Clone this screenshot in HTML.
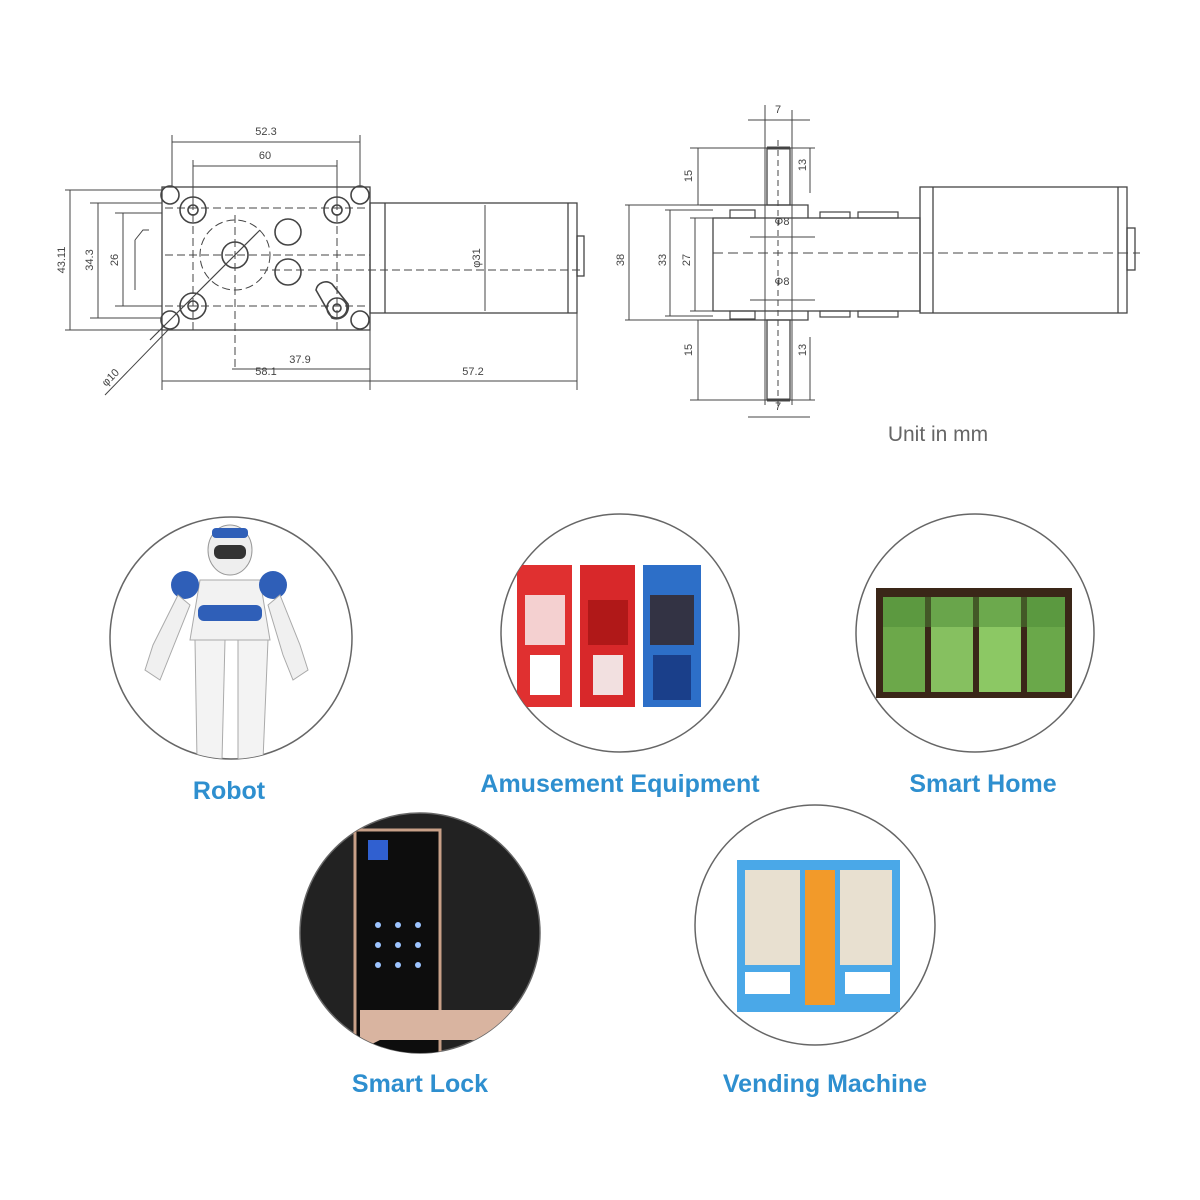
<!DOCTYPE html>
<html><head><meta charset="utf-8"><style>
html,body{margin:0;padding:0;background:#fff;}
svg{display:block}
text{font-family:"Liberation Sans",sans-serif}
.l{font-family:"Liberation Sans",sans-serif;font-weight:bold;font-size:25px;fill:#2e8fcf;text-anchor:middle}
</style></head><body>
<svg width="1200" height="1200" viewBox="0 0 1200 1200" xmlns="http://www.w3.org/2000/svg">
<g stroke="#444" stroke-width="1.3" fill="none">
<!-- LEFT VIEW -->
<rect x="162" y="187" width="208" height="143"/>
<rect x="370" y="203" width="207" height="110"/>
<line x1="385" y1="203" x2="385" y2="313"/>
<line x1="568" y1="203" x2="568" y2="313"/>
<rect x="577" y="236" width="7" height="40"/>
<g stroke-dasharray="8,4" stroke-width="1">
<line x1="165" y1="208" x2="365" y2="208"/><line x1="165" y1="306" x2="365" y2="306"/>
<line x1="193" y1="190" x2="193" y2="330"/><line x1="337" y1="190" x2="337" y2="330"/>
<line x1="165" y1="255" x2="370" y2="255"/><line x1="260" y1="270" x2="580" y2="270"/>
<line x1="235" y1="215" x2="235" y2="370"/>
<circle cx="235" cy="255" r="35"/>
</g>
<g stroke-width="1.6">
<circle cx="170" cy="195" r="9"/><circle cx="360" cy="195" r="9"/><circle cx="170" cy="320" r="9"/><circle cx="360" cy="320" r="9"/>
<circle cx="193" cy="210" r="13"/><circle cx="193" cy="210" r="5"/>
<circle cx="337" cy="210" r="13"/><circle cx="337" cy="210" r="5"/>
<circle cx="193" cy="306" r="13"/><circle cx="193" cy="306" r="5"/>
<circle cx="337" cy="308" r="10"/><circle cx="337" cy="308" r="4"/>
<path d="M316 290 a10 10 0 0 1 16 -6 l16 20 a12 12 0 0 1 -16 14 z"/>
<circle cx="235" cy="255" r="13"/>
<circle cx="288" cy="232" r="13"/><circle cx="288" cy="272" r="13"/>
<line x1="150" y1="340" x2="260" y2="230" stroke-width="1.2"/>
<line x1="105" y1="395" x2="168" y2="330" stroke-width="1"/>
</g>
<g stroke-width="1">
<line x1="172" y1="135" x2="172" y2="187"/><line x1="360" y1="135" x2="360" y2="187"/>
<line x1="172" y1="142" x2="360" y2="142"/>
<line x1="193" y1="160" x2="193" y2="205"/><line x1="337" y1="160" x2="337" y2="205"/>
<line x1="193" y1="166" x2="337" y2="166"/>
<line x1="65" y1="190" x2="162" y2="190"/><line x1="65" y1="330" x2="162" y2="330"/>
<line x1="70" y1="190" x2="70" y2="330"/>
<line x1="90" y1="203" x2="162" y2="203"/><line x1="90" y1="318" x2="162" y2="318"/>
<line x1="98" y1="203" x2="98" y2="318"/>
<line x1="115" y1="213" x2="162" y2="213"/><line x1="115" y1="306" x2="162" y2="306"/>
<line x1="123" y1="213" x2="123" y2="306"/>
<line x1="232" y1="369" x2="370" y2="369"/>
<line x1="162" y1="330" x2="162" y2="390"/><line x1="370" y1="330" x2="370" y2="390"/><line x1="577" y1="313" x2="577" y2="390"/>
<line x1="162" y1="381" x2="577" y2="381"/>
<line x1="485" y1="205" x2="485" y2="311"/>
<path d="M135 240 l8 -10 l6 0 M135 240 v50"/>
</g>
<!-- RIGHT VIEW -->
<rect x="920" y="187" width="207" height="126"/>
<line x1="933" y1="187" x2="933" y2="313"/><line x1="1118" y1="187" x2="1118" y2="313"/>
<rect x="1127" y="228" width="8" height="42"/>
<rect x="713" y="218" width="207" height="93"/>
<path d="M700 205 H808 V218 M700 320 H808 V311"/>
<rect x="767" y="148" width="23" height="57"/><rect x="767" y="320" width="23" height="80"/>
<line x1="767" y1="148" x2="790" y2="148" stroke-width="3"/>
<line x1="767" y1="400" x2="790" y2="400" stroke-width="3"/>
<g stroke-width="1.2">
<rect x="730" y="210" width="25" height="8"/><rect x="820" y="212" width="30" height="6"/><rect x="858" y="212" width="40" height="6"/>
<rect x="730" y="311" width="25" height="8"/><rect x="820" y="311" width="30" height="6"/><rect x="858" y="311" width="40" height="6"/>
</g>
<g stroke-width="1">
<line x1="690" y1="148" x2="815" y2="148"/><line x1="690" y1="400" x2="815" y2="400"/>
<line x1="698" y1="148" x2="698" y2="205"/><line x1="698" y1="320" x2="698" y2="400"/>
<line x1="810" y1="148" x2="810" y2="193"/><line x1="810" y1="337" x2="810" y2="400"/>
<line x1="625" y1="205" x2="700" y2="205"/><line x1="625" y1="320" x2="700" y2="320"/>
<line x1="629" y1="205" x2="629" y2="320"/>
<line x1="665" y1="210" x2="713" y2="210"/><line x1="665" y1="316" x2="713" y2="316"/>
<line x1="670" y1="210" x2="670" y2="316"/>
<line x1="690" y1="218" x2="713" y2="218"/><line x1="690" y1="311" x2="713" y2="311"/>
<line x1="695" y1="218" x2="695" y2="311"/>
<line x1="765" y1="105" x2="765" y2="405"/><line x1="792" y1="110" x2="792" y2="405"/>
<line x1="748" y1="120" x2="810" y2="120"/><line x1="748" y1="417" x2="810" y2="417"/>
<line x1="750" y1="237" x2="815" y2="237"/><line x1="750" y1="300" x2="815" y2="300"/>
<line x1="713" y1="253" x2="1140" y2="253" stroke-dasharray="10,5"/>
<line x1="778" y1="140" x2="778" y2="410" stroke-dasharray="6,4"/>
</g>
</g>
<g font-size="11" fill="#444" font-family="Liberation Mono,monospace" text-anchor="middle">
<text x="266" y="135">52.3</text><text x="265" y="159">60</text><text x="300" y="363">37.9</text>
<text x="266" y="375">58.1</text><text x="473" y="375">57.2</text>
<text x="65" y="260" transform="rotate(-90 65 260)">43.11</text>
<text x="93" y="260" transform="rotate(-90 93 260)">34.3</text>
<text x="118" y="260" transform="rotate(-90 118 260)">26</text>
<text x="480" y="258" transform="rotate(-90 480 258)">φ31</text>
<text x="113" y="380" transform="rotate(-45 113 380)">φ10</text>
<text x="778" y="113">7</text><text x="778" y="410">7</text>
<text x="782" y="225">Φ8</text><text x="782" y="285">Φ8</text>
<text x="692" y="176" transform="rotate(-90 692 176)">15</text>
<text x="692" y="350" transform="rotate(-90 692 350)">15</text>
<text x="806" y="165" transform="rotate(-90 806 165)">13</text>
<text x="806" y="350" transform="rotate(-90 806 350)">13</text>
<text x="624" y="260" transform="rotate(-90 624 260)">38</text>
<text x="666" y="260" transform="rotate(-90 666 260)">33</text>
<text x="690" y="260" transform="rotate(-90 690 260)">27</text>
</g>
<text x="938" y="441" font-size="21" fill="#666" text-anchor="middle">Unit in mm</text>

<defs>
<clipPath id="c1"><circle cx="231" cy="638" r="121"/></clipPath>
<clipPath id="c2"><circle cx="620" cy="633" r="119"/></clipPath>
<clipPath id="c3"><circle cx="975" cy="633" r="119"/></clipPath>
<clipPath id="c4"><circle cx="420" cy="933" r="120"/></clipPath>
<clipPath id="c5"><circle cx="815" cy="925" r="120"/></clipPath>
</defs>
<!-- robot -->
<circle cx="231" cy="638" r="121" fill="#fff" stroke="#666" stroke-width="1.5"/>
<g clip-path="url(#c1)">
<ellipse cx="230" cy="550" rx="22" ry="25" fill="#eee" stroke="#999"/>
<rect x="214" y="545" width="32" height="14" rx="6" fill="#333"/>
<rect x="212" y="528" width="36" height="10" rx="4" fill="#2f5fb8"/>
<path d="M200 580 h60 l10 60 h-80 z" fill="#f2f2f2" stroke="#aaa"/>
<rect x="198" y="605" width="64" height="16" rx="6" fill="#2f5fb8"/>
<circle cx="185" cy="585" r="14" fill="#2f5fb8"/><circle cx="273" cy="585" r="14" fill="#2f5fb8"/>
<path d="M178 595 l-25 50 l-8 25 l15 10 l10 -25 l20 -50z" fill="#f0f0f0" stroke="#aaa"/>
<path d="M280 595 l20 50 l8 25 l-15 10 l-10 -25 l-15 -50z" fill="#f0f0f0" stroke="#aaa"/>
<path d="M195 640 h30 l-3 120 h-25 z" fill="#f3f3f3" stroke="#aaa"/>
<path d="M238 640 h30 l-5 120 h-25 z" fill="#f3f3f3" stroke="#aaa"/>
</g>
<!-- amusement -->
<circle cx="620" cy="633" r="119" fill="#fff" stroke="#666" stroke-width="1.5"/>
<g clip-path="url(#c2)">
<rect x="517" y="565" width="55" height="142" fill="#e03030"/><rect x="525" y="595" width="40" height="50" fill="#f4d0d0"/><rect x="530" y="655" width="30" height="40" fill="#fff"/>
<rect x="580" y="565" width="55" height="142" fill="#d8282a"/><rect x="588" y="600" width="40" height="45" fill="#b01818"/><rect x="593" y="655" width="30" height="40" fill="#f2e0e0"/>
<rect x="643" y="565" width="58" height="142" fill="#2d6fc8"/><rect x="650" y="595" width="44" height="50" fill="#334"/><rect x="653" y="655" width="38" height="45" fill="#1a3f8a"/>
</g>
<!-- smart home -->
<circle cx="975" cy="633" r="119" fill="#fff" stroke="#666" stroke-width="1.5"/>
<rect x="876" y="588" width="196" height="110" fill="#3a2618"/>
<rect x="883" y="597" width="42" height="95" fill="#6ca84a"/>
<rect x="931" y="597" width="42" height="95" fill="#86c060"/>
<rect x="979" y="597" width="42" height="95" fill="#8cc864"/>
<rect x="1027" y="597" width="38" height="95" fill="#6aa84a"/>
<rect x="883" y="597" width="182" height="30" fill="#4c8a36" opacity=".5"/>
<!-- lock -->
<circle cx="420" cy="933" r="120" fill="#222" stroke="#666" stroke-width="1.5"/>
<g clip-path="url(#c4)">
<rect x="355" y="830" width="85" height="230" fill="#0d0d0d" stroke="#c8a088" stroke-width="3"/>
<rect x="368" y="840" width="20" height="20" fill="#3060d0"/>
<g fill="#9cc4ff"><circle cx="378" cy="925" r="3"/><circle cx="398" cy="925" r="3"/><circle cx="418" cy="925" r="3"/><circle cx="378" cy="945" r="3"/><circle cx="398" cy="945" r="3"/><circle cx="418" cy="945" r="3"/><circle cx="378" cy="965" r="3"/><circle cx="398" cy="965" r="3"/><circle cx="418" cy="965" r="3"/></g>
<path d="M360 1010 h170 v30 h-150 l-20 10 z" fill="#d9b4a0"/>
</g>
<!-- vending -->
<circle cx="815" cy="925" r="120" fill="#fff" stroke="#666" stroke-width="1.5"/>
<rect x="737" y="860" width="163" height="152" fill="#4aa8e8"/>
<rect x="745" y="870" width="55" height="95" fill="#e8e0d0"/>
<rect x="840" y="870" width="52" height="95" fill="#e8e0d0"/>
<rect x="805" y="870" width="30" height="135" fill="#f29a2a"/>
<rect x="745" y="972" width="45" height="22" fill="#fff"/><rect x="845" y="972" width="45" height="22" fill="#fff"/>

<text class="l" x="229" y="799">Robot</text>
<text class="l" x="620" y="792">Amusement Equipment</text>
<text class="l" x="983" y="792">Smart Home</text>
<text class="l" x="420" y="1092">Smart Lock</text>
<text class="l" x="825" y="1092">Vending Machine</text>
</svg>
</body></html>
